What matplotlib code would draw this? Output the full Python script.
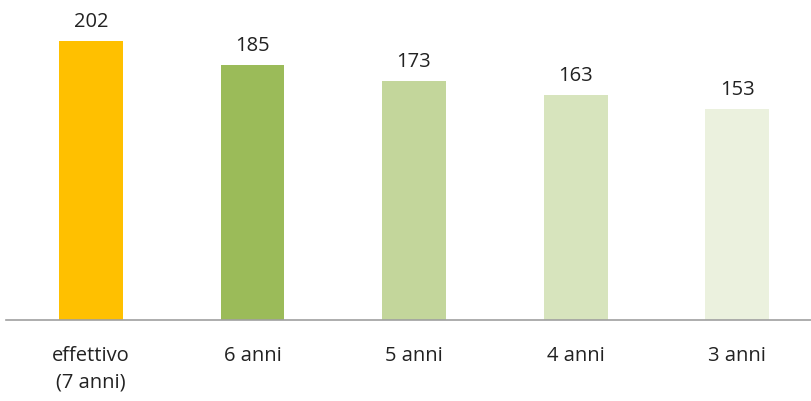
import matplotlib.pyplot as plt

categories = ["effettivo\n(7 anni)", "6 anni", "5 anni", "4 anni", "3 anni"]
values = [202, 185, 173, 163, 153]
colors = ["#FFC000", "#9BBB59", "#C3D69B", "#D7E4BD", "#EBF1DE"]

plt.rcParams['font.family'] = ['Open Sans', 'DejaVu Sans']

fig = plt.figure(figsize=(8.12, 4.02), dpi=100)
ax = fig.add_axes([6/812, 81/402, 806/812, (321-17.2)/402])

x = range(len(categories))
bars = ax.bar(x, values, width=0.396, color=colors)

for b, v in zip(bars, values):
    ax.annotate(str(v), (b.get_x() + b.get_width()/2, v), xytext=(0, 7),
                textcoords="offset points", ha="center", va="bottom",
                fontsize=14.5, color="#222222")

ax.set_xlim(-0.526, 4.464)
ax.set_ylim(0, 220)
ax.set_xticks(list(x))
ax.set_xticklabels(categories, fontsize=14.5, color="#222222", linespacing=1.45)
ax.tick_params(axis="x", length=0, pad=18)
ax.set_yticks([])
for s in ["top", "right", "left"]:
    ax.spines[s].set_visible(False)
ax.spines["bottom"].set_color("#A0A0A0")
ax.spines["bottom"].set_linewidth(1.2)

fig.savefig("out.png", dpi=100)
